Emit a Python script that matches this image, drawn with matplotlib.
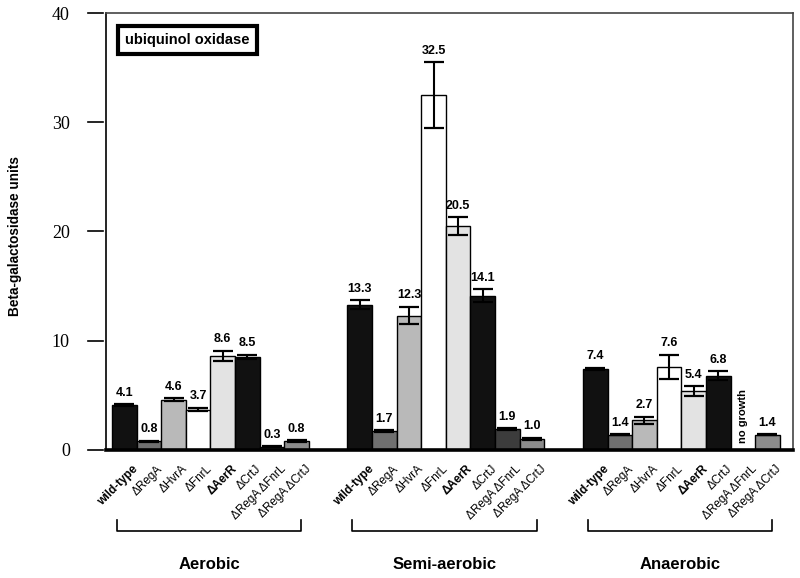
import numpy as np
import matplotlib
matplotlib.use("Agg")
from matplotlib import pyplot as plt
from matplotlib import transforms


# ----------- data -----------
strains = ["wild-type", "\u0394RegA", "\u0394HvrA", "\u0394FnrL", "\u0394AerR",
           "\u0394CrtJ", "\u0394RegA \u0394FnrL", "\u0394RegA \u0394CrtJ"]
bold_strains = ["wild-type", "\u0394AerR"]
conditions = ["Aerobic", "Semi-aerobic", "Anaerobic"]

aerobic = [4.1, 0.8, 4.6, 3.7, 8.6, 8.5, 0.3, 0.8]
aerobic_err = [0.1, 0.05, 0.15, 0.15, 0.5, 0.2, 0.03, 0.1]
semi = [13.3, 1.7, 12.3, 32.5, 20.5, 14.1, 1.9, 1.0]
semi_err = [0.4, 0.1, 0.8, 3.0, 0.8, 0.6, 0.1, 0.1]
anaerobic = [7.4, 1.4, 2.7, 7.6, 5.4, 6.8, np.nan, 1.4]
anaerobic_err = [0.1, 0.05, 0.35, 1.1, 0.45, 0.4, np.nan, 0.05]

bar_colors = ["#111111", "#707070", "#b9b9b9", "#ffffff",
              "#e3e3e3", "#111111", "#3c3c3c", "#8c8c8c"]
# -------- end of data -----

values = [aerobic, semi, anaerobic]
errors = [aerobic_err, semi_err, anaerobic_err]
group_step = 9.57

plt.rcParams["font.family"] = ["Liberation Sans", "DejaVu Sans"]

fig = plt.figure(figsize=(8, 5.78), dpi=100)
ax = fig.add_axes([0.1325, 0.2215, 0.8588, 0.756])

for g in range(3):
    x = g * group_step + np.arange(len(strains))
    v = np.array(values[g], dtype=float)
    e = np.array(errors[g], dtype=float)
    ax.bar(x, np.nan_to_num(v), width=1.0, color=bar_colors,
           edgecolor="black", linewidth=1.0, zorder=2)
    ok = ~np.isnan(v)
    ax.errorbar(x[ok], v[ok], yerr=e[ok], fmt="none", ecolor="black",
                elinewidth=1.5, capsize=7, capthick=1.6, zorder=3)
    for xi, vi, ei in zip(x, v, e):
        if np.isnan(vi):
            ax.text(xi, 0.6, "no growth", rotation=90, ha="center", va="bottom",
                    fontsize=8, fontweight="bold")
            continue
        ax.annotate(f"{vi:.1f}", (xi, vi + ei), xytext=(0, 4),
                    textcoords="offset points", ha="center", va="bottom",
                    fontsize=9, fontweight="bold")

    # strain labels under bars
    off = transforms.ScaledTranslation(8 / 100, -13 / 100, fig.dpi_scale_trans)
    for xi, name in zip(x, strains):
        ax.text(xi, 0, name, rotation=45, ha="right", va="top",
                rotation_mode="anchor", fontsize=8.5,
                fontweight="bold" if name in bold_strains else "normal",
                transform=ax.get_xaxis_transform() + off, clip_on=False)

    # bracket and condition label
    bt = ax.get_xaxis_transform()
    x0 = g * group_step - 0.3
    x1 = g * group_step + 7.2
    ax.plot([x0, x0, x1, x1], [-0.160, -0.185, -0.185, -0.160],
            color="black", linewidth=1.2, transform=bt, clip_on=False)
    ax.text((x0 + x1) / 2, -0.263, conditions[g], ha="center", va="center",
            fontsize=12, fontweight="bold", transform=bt)

ax.set_xlim(-0.745, 27.18)
ax.set_ylim(0, 40)
ax.set_xticks([])

yt = [0, 10, 20, 30, 40]
ax.set_yticks(yt)
ax.set_yticklabels([str(t) for t in yt], family=["Liberation Serif", "DejaVu Serif"],
                   fontsize=13)
ax.tick_params(axis="y", length=0, pad=26)
# tick marks drawn with a small gap from the spine
yt_tr = ax.get_yaxis_transform()
for t in yt:
    ax.plot([-0.026, -0.004], [t, t], color="black", linewidth=1.2,
            transform=yt_tr, clip_on=False)

ax.spines["left"].set_linewidth(1.2)
ax.spines["bottom"].set_linewidth(2.6)
for s in ["top", "right"]:
    ax.spines[s].set_linewidth(1.2)
    ax.spines[s].set_color("#444444")

fig.text(0.019, 0.592, "Beta-galactosidase units", rotation=90, ha="center",
         va="center", fontsize=9.8, fontweight="bold")

ax.text(0.028, 0.938, "ubiquinol oxidase", transform=ax.transAxes,
        ha="left", va="center", fontsize=10.5, fontweight="bold",
        bbox=dict(boxstyle="square,pad=0.5", facecolor="white",
                  edgecolor="black", linewidth=3))

fig.savefig("out.png", dpi=100)
